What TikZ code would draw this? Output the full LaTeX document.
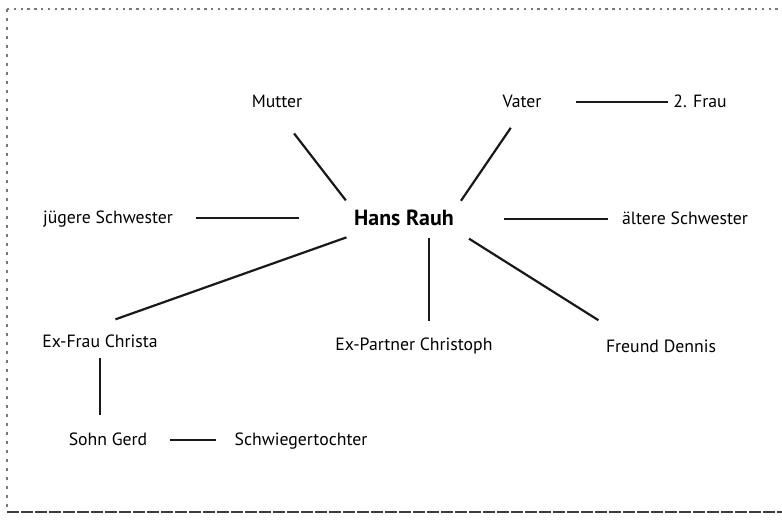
\documentclass[tikz,border=0pt]{standalone}
\usepackage{fontspec}
\setmainfont{PT Sans}
\usepackage{tikz}
\usetikzlibrary{
  positioning,
  calc
}
\definecolor{scangray}{RGB}{120,120,120}
\definecolor{scandark}{RGB}{60,60,60}
\tikzset{
  person/.style={
    inner sep=0pt,
    text height=1.45ex,
    text depth=0.35ex,
    font=\fontsize{8.9}{11}\selectfont
  },
  centerperson/.style={person,font=\fontsize{11}{13}\selectfont\bfseries},
  link/.style={line width=1.1bp,draw=black!90},
  frametop/.style={draw=scangray,line width=0.8bp,dash pattern=on 1.2bp off 2.2bp},
  frameleft/.style={draw=scangray,line width=0.7bp,dash pattern=on 1.5bp off 3bp},
  framebottom/.style={draw=scandark,line width=1bp,dash pattern=on 6bp off 1bp}
}

\begin{document}
\begin{tikzpicture}[x=0.5bp,y=-0.5bp]
  \useasboundingbox (0,0) rectangle (782,522);
  \draw[frametop] (7,9) -- (782,9);
  \draw[frameleft] (7,9) -- (7,512);
  \draw[framebottom] (7,512) -- (782,512);

  \node[centerperson] (hans) at (404,220) {Hans Rauh};
  \node[person] (mutter) at (277,102) {Mutter};
  \node[person] (vater) at (522,102) {Vater};
  \node[person] (frau) at (700,102) {2. Frau};
  \node[person] (jschw) at (108,218) {jügere Schwester};
  \node[person] (aschw) at (685,219) {ältere Schwester};
  \node[person] (exfrau) at (100,342) {Ex-Frau Christa};
  \node[person] (expartner) at (414,345) {Ex-Partner Christoph};
  \node[person] (freund) at (661,347) {Freund Dennis};
  \node[person] (sohn) at (108,440) {Sohn Gerd};
  \node[person] (schwieger) at (301,440) {Schwiegertochter};

  \draw[link,shorten <=14pt,shorten >=6.5pt] (mutter.south) -- (hans.north west);
  \draw[link,shorten <=10pt,shorten >=6pt] (vater.south) -- (hans.north east);
  \draw[link,shorten <=17pt,shorten >=2.5pt] (vater.east) -- (frau.west);
  \draw[link,shorten <=27.5pt,shorten >=11.5pt] (hans.west |- jschw.east) -- (jschw.east);
  \draw[link,shorten <=25pt,shorten >=7pt] (hans.east |- aschw.west) -- (aschw.west);
  \draw[link,shorten <=12pt,shorten >=20pt] (hans.195) -- (exfrau.157);
  \draw[link,shorten <=4.5pt,shorten >=7.5pt] ([xshift=12.5pt]hans.south) -- ([xshift=12.5pt]hans.south |- expartner.north);
  \draw[link,shorten <=8.75pt,shorten >=16.4pt] (hans.south east) -- (freund.165);
  \draw[link,shorten <=3.5pt,shorten >=8pt] (exfrau.south) -- (exfrau.south |- sohn.north);
  \draw[link,shorten <=11pt,shorten >=9pt] (sohn.east) -- (schwieger.west);
\end{tikzpicture}
\end{document}
